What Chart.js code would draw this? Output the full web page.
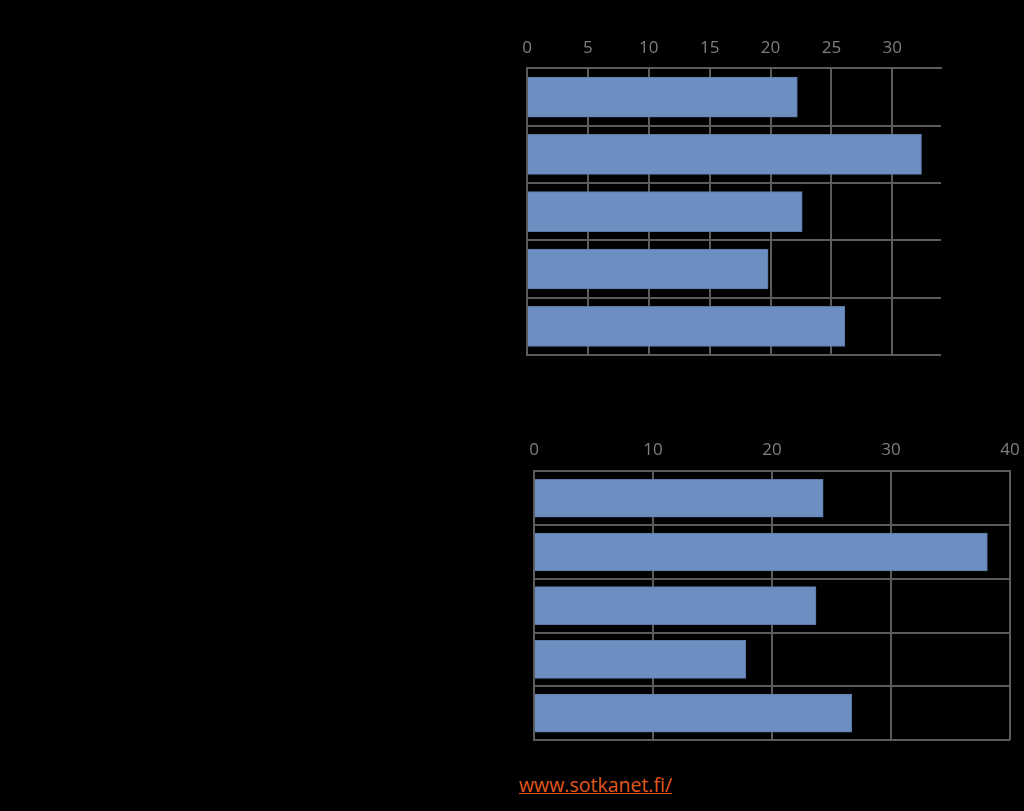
<!DOCTYPE html>
<html>
<head>
<meta charset="utf-8">
<script src="https://cdn.jsdelivr.net/npm/chart.js@4"></script>
<style>
  html, body { margin: 0; padding: 0; background: #000; }
  body { width: 1024px; height: 811px; position: relative; overflow: hidden; }
  .box { position: absolute; }
  #box1 { left: 500px; top: 0px; width: 460px; height: 380px; }
  #box2 { left: 510px; top: 400px; width: 530px; height: 360px; }
  #source {
    position: absolute; left: 519px; top: 771px;
    font-family: "Open Sans", sans-serif; font-size: 19.5px;
    color: #e2581e; text-decoration: underline;
  }
</style>
</head>
<body>
<div class="box" id="box1"><canvas id="chart1"></canvas></div>
<div class="box" id="box2"><canvas id="chart2"></canvas></div>
<a id="source">www.sotkanet.fi/</a>
<script>
// categories have no visible labels in the picture (black on black)
const categories = ["", "", "", "", ""];

const topValues = [22.2, 32.4, 22.6, 19.8, 26.1];
const bottomValues = [24.3, 38.1, 23.7, 17.8, 26.7];

const topTicks = { max: 34, step: 5 };
const bottomTicks = { max: 40, step: 10 };

const barColor = "#6d8ec0";
const gridColor = "#5c5c5c";
const tickColor = "#7f7f7f";

function makeChart(id, values, ticks, padding, tickPad, thickness) {
  const ctx = document.getElementById(id).getContext("2d");
  return new Chart(ctx, {
    type: "bar",
    data: {
      labels: categories,
      datasets: [{
        data: values,
        backgroundColor: barColor,
        borderColor: "#5b7aa8",
        borderWidth: 1,
        barThickness: thickness
      }]
    },
    options: {
      indexAxis: "y",
      responsive: true,
      maintainAspectRatio: false,
      animation: false,
      layout: { padding: padding },
      plugins: {
        legend: { display: false },
        tooltip: { enabled: false }
      },
      scales: {
        x: {
          position: "top",
          min: 0,
          max: ticks.max,
          ticks: {
            stepSize: ticks.step,
            includeBounds: false,
            color: tickColor,
            padding: tickPad,
            font: { family: "Open Sans", size: 17 }
          },
          grid: { color: gridColor, lineWidth: 2, drawTicks: false },
          border: { color: gridColor, width: 2 }
        },
        y: {
          ticks: { display: false },
          grid: { offset: true, color: gridColor, lineWidth: 2, drawTicks: false },
          border: { color: gridColor, width: 2 }
        }
      }
    }
  });
}

makeChart("chart1", topValues, topTicks, { left: 27, right: 19, top: 28, bottom: 25 }, 10, 40);
makeChart("chart2", bottomValues, bottomTicks, { left: 24, right: 30, top: 29, bottom: 20 }, 11, 38);
</script>
</body>
</html>
